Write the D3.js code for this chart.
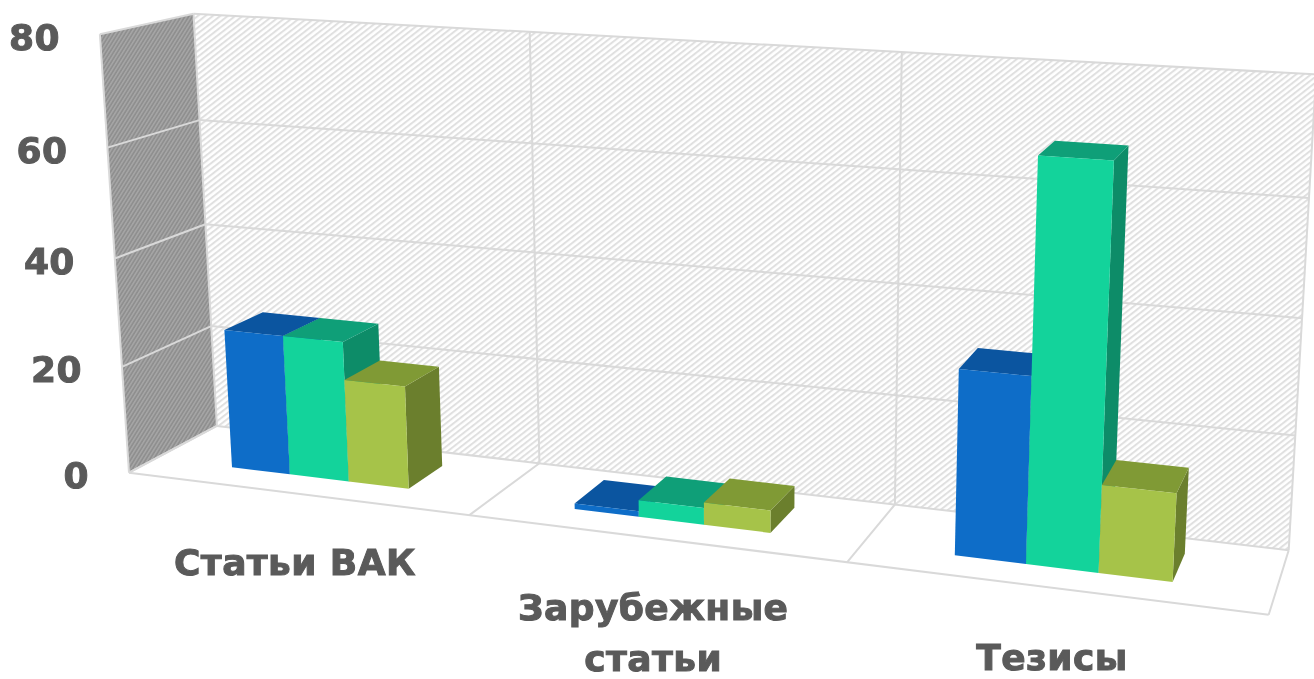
<!DOCTYPE html>
<html><head><meta charset="utf-8">
<script src="https://cdn.jsdelivr.net/npm/d3@7"></script>
<style>html,body{margin:0;padding:0;background:#fff;overflow:hidden}
svg{filter:blur(0.45px)}
text{font-family:"DejaVu Sans",sans-serif;font-weight:700;fill:#5a5a5a;stroke:#5a5a5a;stroke-width:1px;font-size:36px;letter-spacing:0.4px}</style>
</head><body><svg id="c" width="1314" height="679"></svg>
<script>
const categories = [["Статьи ВАК"], ["Зарубежные", "статьи"], ["Тезисы"]];
const seriesNames = ["s1", "s2", "s3"];
const series1 = [26, 1, 32];
const series2 = [26, 3, 68];
const series3 = [19, 4, 15];
const yTicks = [0, 20, 40, 60, 80];
const seriesColors = [
  {front:"#0E6DC8", top:"#0B55A0", side:"#094E92"},
  {front:"#13D39B", top:"#0F9F78", side:"#0D8C68"},
  {front:"#A6C349", top:"#809A35", side:"#6B7F2D"}];
const values = [series1, series2, series3];

// camera calibration: world (category position, value, depth) -> screen
const calib = [
 [0,0,0,129,470],[1,0,0,470,514],[2,0,0,847,563],[3,0,0,1269,617],
 [0,0,1,217,428],[3,0,1,1288,550],
 [0,80,1,193,14],[1,80,1,530,33],[2,80,1,905,52],[3,80,1,1314,72],
 [0,80,0,99,36],[0,40,1,205,223],[0,40,0,115,258]];
function solve(A,b){const n=b.length;const M=A.map((r,i)=>[...r,b[i]]);
 for(let i=0;i<n;i++){let p=i;for(let k=i+1;k<n;k++)if(Math.abs(M[k][i])>Math.abs(M[p][i]))p=k;
  [M[i],M[p]]=[M[p],M[i]];
  for(let k=0;k<n;k++){if(k===i)continue;const f=M[k][i]/M[i][i];for(let j=i;j<=n;j++)M[k][j]-=f*M[i][j];}}
 return M.map((r,i)=>r[n]/r[i]);}
const rows=[],rhs=[];
calib.forEach(([x,y,z,u,v])=>{const Y=y/80;
 rows.push([x,Y,z,1,0,0,0,0,-u*x,-u*Y,-u*z]);rhs.push(u);
 rows.push([0,0,0,0,x,Y,z,1,-v*x,-v*Y,-v*z]);rhs.push(v);});
const ATA=d3.range(11).map(i=>d3.range(11).map(j=>d3.sum(rows,r=>r[i]*r[j])));
const ATb=d3.range(11).map(i=>d3.sum(rows,(r,k)=>r[i]*rhs[k]));
const m=solve(ATA,ATb);

const yScale=d3.scaleLinear().domain([0,80]).range([0,1]);
const xScale=d3.scaleBand().domain(d3.range(categories.length)).range([0,3]);
const inner=d3.scaleBand().domain(d3.range(seriesNames.length)).range([-0.002,0.998]).paddingInner(0).paddingOuter(1.34);
function P(x,val,z){const Y=yScale(val);const w=m[8]*x+m[9]*Y+m[10]*z+1;
 return [(m[0]*x+m[1]*Y+m[2]*z+m[3])/w,(m[4]*x+m[5]*Y+m[6]*z+m[7])/w];}
const poly=pts=>"M"+pts.map(p=>p.map(d=>d.toFixed(1)).join(",")).join("L")+"Z";
const seg=(a,b)=>"M"+a.map(d=>d.toFixed(1)).join(",")+"L"+b.map(d=>d.toFixed(1)).join(",");

const svg=d3.select("#c");
const defs=svg.append("defs");
function hatch(id,bg,fg,size,sw,angle){
 const p=defs.append("pattern").attr("id",id).attr("width",size).attr("height",size)
  .attr("patternUnits","userSpaceOnUse").attr("patternTransform",`rotate(${angle})`);
 p.append("rect").attr("width",size).attr("height",size).attr("fill",bg);
 p.append("rect").attr("width",size).attr("height",sw).attr("fill",fg);}
hatch("hBack","#ffffff","#e0e0e0",4.6,2,-38);
hatch("hLeft","#8f8f8f","#a6a6a6",3.2,1.5,-58);

const yMax=80,nC=3;
svg.append("path").attr("d",poly([P(0,0,1),P(nC,0,1),P(nC,yMax,1),P(0,yMax,1)])).attr("fill","url(#hBack)");
svg.append("path").attr("d",poly([P(0,0,0),P(0,0,1),P(0,yMax,1),P(0,yMax,0)])).attr("fill","url(#hLeft)");

const grid=svg.append("g").attr("fill","none").attr("stroke","#d9d9d9").attr("stroke-width",2);
yTicks.forEach(t=>{
 grid.append("path").attr("d",seg(P(0,t,0),P(0,t,1)));
 grid.append("path").attr("d",seg(P(0,t,1),P(nC,t,1)));});
d3.range(0,nC+1).forEach(i=>{
 grid.append("path").attr("d",seg(P(i,0,0),P(i,0,1)));
 grid.append("path").attr("d",seg(P(i,0,1),P(i,yMax,1)));});
grid.append("path").attr("d",seg(P(0,0,0),P(nC,0,0)));
grid.append("path").attr("d",seg(P(0,0,0),P(0,yMax,0)));

const z0=0.30,z1=0.75;
const bars=svg.append("g");
categories.forEach((c,ci)=>{
 seriesNames.forEach((s,si)=>{
  const v=values[si][ci],col=seriesColors[si];
  const x0=xScale(ci)+inner(si)*xScale.bandwidth(),x1=x0+inner.bandwidth()*xScale.bandwidth();
  bars.append("path").attr("d",poly([P(x1,0,z0),P(x1,0,z1),P(x1,v,z1),P(x1,v,z0)])).attr("fill",col.side);
  bars.append("path").attr("d",poly([P(x0,v,z0),P(x1,v,z0),P(x1,v,z1),P(x0,v,z1)])).attr("fill",col.top);
  bars.append("path").attr("d",poly([P(x0,0,z0),P(x1,0,z0),P(x1,v,z0),P(x0,v,z0)])).attr("fill",col.front);
 });
});

yTicks.forEach(t=>{const p=P(0,t,0);
 svg.append("text").attr("x",p[0]-40).attr("y",p[1]+15.5).attr("text-anchor","end").text(t);});
categories.forEach((lines,ci)=>{const p=P(xScale(ci)+xScale.bandwidth()/2,0,0);
 lines.forEach((l,i)=>svg.append("text").attr("x",p[0]).attr("y",p[1]+82+i*51).attr("text-anchor","middle").text(l));});
</script></body></html>
